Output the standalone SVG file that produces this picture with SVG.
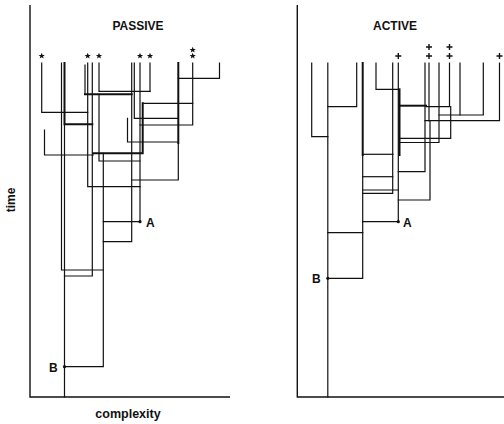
<svg xmlns="http://www.w3.org/2000/svg" width="504" height="424" viewBox="0 0 504 424">
  <defs>
    <style>
      .ln { fill: none; stroke: #111; stroke-width: 1.2; stroke-linecap: square; }
      .thick { stroke-width: 2; }
      .ax { fill: none; stroke: #111; stroke-width: 1.4; }
      .lbl { font-family: "Liberation Sans", Arial, sans-serif; font-weight: bold; fill: #111; }
      .pt { fill: #111; }
      .plus { fill: none; stroke: #111; stroke-width: 1.4; }
    </style>
    <polygon id="star" points="0,-3.2 0.9,-1 3.1,-1 1.3,0.4 2,2.6 0,1.3 -2,2.6 -1.3,0.4 -3.1,-1 -0.9,-1" fill="#111"/>
    <path id="plus" d="M-3,0 H3 M0,-3 V3" class="plus"/>
  </defs>
  <rect width="504" height="424" fill="#fff"/>

  <!-- left panel -->
  <g id="passive">
    <path class="ax" d="M30,5 V397 H230"/>
    <text class="lbl" x="138" y="29.5" font-size="12" text-anchor="middle">PASSIVE</text>
    <text class="lbl" x="0" y="0" font-size="12" text-anchor="middle" transform="translate(15,200) rotate(-90)">time</text>
    <text class="lbl" x="128" y="418" font-size="12.5" text-anchor="middle">complexity</text>
    <g id="passive-tips">
      <use href="#star" x="41.7" y="56"/>
      <use href="#star" x="87.7" y="56"/>
      <use href="#star" x="99" y="56"/>
      <use href="#star" x="140" y="56"/>
      <use href="#star" x="150" y="56"/>
      <use href="#star" x="192.7" y="56"/>
      <use href="#star" x="192.7" y="50"/>
    </g>
    <g id="passive-lineages">
      <path class="ln" d="M41.7,63 V112.3 H87.7"/>
      <path class="ln" d="M61.5,63 V270 H103.3"/>
      <path class="ln" d="M64.5,124 V397"/>
      <path class="ln thick" d="M64.5,63 V124.3 H92.3"/>
      <path class="ln" d="M85,65 V94.3"/>
      <path class="ln thick" d="M85,94.3 H131.7"/>
      <path class="ln" d="M87.7,63 V186.7 H140"/>
      <path class="ln" d="M92.3,63 V276 H64.5"/>
      <path class="ln" d="M99,63 V91.3 H150"/>
      <path class="ln" d="M99,94.3 V161 H140"/>
      <path class="ln thick" d="M93.3,153.3 H142.7 V103.3"/>
      <path class="ln" d="M142.7,103.3 H192.7"/>
      <path class="ln" d="M103.3,153.3 V366.7 H64.5"/>
      <path class="ln" d="M103.3,221.7 H140"/>
      <path class="ln" d="M103.3,241.7 H131.7 V63"/>
      <path class="ln" d="M134.3,63 V118.3 H178.3"/>
      <path class="ln" d="M127.5,118.3 V142 H178.3"/>
      <path class="ln" d="M140,63 V221.7"/>
      <path class="ln" d="M150,63 V91.3"/>
      <path class="ln" d="M178.3,143 V180 H131.7"/>
      <path class="ln thick" d="M178.3,63 V143"/>
      <path class="ln" d="M178.3,78.3 H219.5 V63"/>
      <path class="ln" d="M192.7,63 V125 H140"/>
      <path class="ln" d="M44.5,130 V155 H93.3"/>
    </g>
    <g id="passive-A">
      <circle class="pt" cx="140" cy="221.7" r="1.6"/>
      <text class="lbl" x="146" y="226.5" font-size="12">A</text>
    </g>
    <g id="passive-B">
      <circle class="pt" cx="64.5" cy="366.7" r="1.6"/>
      <text class="lbl" x="49" y="371.5" font-size="12">B</text>
    </g>
  </g>

  <!-- right panel -->
  <g id="active">
    <path class="ax" d="M297.3,5 V397 H504"/>
    <text class="lbl" x="395" y="29.5" font-size="12" text-anchor="middle">ACTIVE</text>
    <g id="active-tips">
      <use href="#plus" x="398.3" y="56"/>
      <use href="#plus" x="429" y="56"/>
      <use href="#plus" x="429" y="47"/>
      <use href="#plus" x="449.5" y="56"/>
      <use href="#plus" x="449.5" y="47"/>
      <use href="#plus" x="499.5" y="56"/>
    </g>
    <g id="active-lineages">
      <path class="ln" d="M311.7,63 V136.7 H327.8"/>
      <path class="ln" d="M327.8,63 V397"/>
      <path class="ln" d="M327.8,106.7 H356.7 V63"/>
      <path class="ln thick" d="M362.7,63 V155"/>
      <path class="ln" d="M362.7,155 V278.3 H327.8"/>
      <path class="ln" d="M327.8,232.7 H362.7"/>
      <path class="ln" d="M376,63 V89.3 H398.3"/>
      <path class="ln" d="M392.7,63 V193.3 H362.7"/>
      <path class="ln" d="M392.7,176.7 H362.7"/>
      <path class="ln" d="M398.3,63 V221.7 H362.7"/>
      <path class="ln thick" d="M399.5,89.3 V155"/>
      <path class="ln thick" d="M399.5,105.7 H426"/>
      <path class="ln" d="M425,63 V171.7 H398.3"/>
      <path class="ln" d="M429,63 V120.7"/>
      <path class="ln" d="M430,120.7 V200 H398.3"/>
      <path class="ln" d="M439,63 V142.5 H399.5"/>
      <path class="ln" d="M449.5,63 V106.7 H426"/>
      <path class="ln" d="M450.7,106.7 V138.3 H399.5"/>
      <path class="ln" d="M483.3,63 V115 H439"/>
      <path class="ln" d="M460,63 V115"/>
      <path class="ln" d="M499.5,63 V120.7 H425"/>
      <path class="ln" d="M362.7,154.3 H393"/>
      <path class="ln" d="M362.7,190 H398.3"/>
    </g>
    <g id="active-A">
      <circle class="pt" cx="398.3" cy="221.7" r="1.6"/>
      <text class="lbl" x="403" y="226.5" font-size="12">A</text>
    </g>
    <g id="active-B">
      <circle class="pt" cx="327.8" cy="278.3" r="1.6"/>
      <text class="lbl" x="312" y="283" font-size="12">B</text>
    </g>
  </g>
</svg>
